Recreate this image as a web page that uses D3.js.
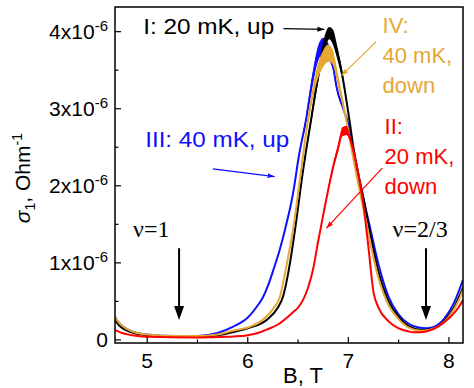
<!DOCTYPE html>
<html>
<head>
<meta charset="utf-8">
<script src="https://cdn.jsdelivr.net/npm/d3@7"></script>
<style>
  body { margin: 0; background: #fff; }
  text { font-family: "Liberation Sans", Arial, sans-serif; }
</style>
</head>
<body>
<div id="chart"></div>
<script>
// field values (T) and sigma_1 values (units of 1e-6 Ohm^-1)
// noise = half width of the jittery band near the peak
const blueB = [4.68,4.72,4.8,4.9,5.0,5.3,5.5,5.7,5.85,6.0,6.1,6.15,6.2,6.26,6.32,6.37,6.45,6.51,6.58,6.64,6.7,6.75,6.8,6.85,6.88,6.95,7.0,7.05,7.1,7.15,7.2,7.3,7.4,7.5,7.6,7.7,7.77,7.85,7.95,8.05,8.14]
const blueV = [0.30,0.22,0.14,0.09,0.07,0.05,0.05,0.09,0.17,0.29,0.45,0.55,0.7,0.93,1.18,1.43,1.9,2.4,2.86,3.35,3.72,3.82,3.75,3.55,3.3,3.0,2.8,2.45,2.1,1.82,1.55,0.98,0.56,0.33,0.21,0.16,0.15,0.17,0.27,0.48,0.78]
const blueN = [0,0,0,0,0,0,0,0,0,0,0,0,0,0,0,0,0.01,0.03,0.05,0.08,0.1,0.1,0.1,0.07,0.04,0.02,0,0,0,0,0,0,0,0,0,0,0,0,0,0,0]

const blackB = [4.68,4.72,4.8,4.9,5.0,5.3,5.5,5.7,5.85,6.02,6.19,6.3,6.35,6.42,6.47,6.55,6.63,6.71,6.76,6.81,6.85,6.88,6.93,7.01,7.05,7.1,7.16,7.2,7.3,7.4,7.5,7.6,7.73,7.85,7.95,8.05,8.14]
const blackV = [0.26,0.19,0.12,0.08,0.06,0.04,0.04,0.06,0.1,0.16,0.26,0.42,0.56,1.0,1.43,2.2,2.86,3.5,3.82,3.98,3.92,3.78,3.5,2.86,2.5,2.15,1.78,1.5,0.88,0.5,0.3,0.18,0.13,0.15,0.24,0.42,0.68]
const blackN = [0,0,0,0,0,0,0,0,0,0,0,0,0,0,0.01,0.03,0.05,0.09,0.1,0.08,0.1,0.09,0.06,0.02,0,0,0,0,0,0,0,0,0,0,0,0,0]

const orangeB = [4.68,4.72,4.8,4.9,5.0,5.3,5.5,5.7,5.85,6.02,6.15,6.25,6.32,6.39,6.45,6.53,6.6,6.68,6.75,6.8,6.84,6.9,6.98,7.05,7.15,7.3,7.4,7.5,7.6,7.72,7.8,7.9,8.0,8.1,8.14]
const orangeV = [0.30,0.22,0.14,0.09,0.07,0.05,0.05,0.07,0.12,0.17,0.26,0.4,0.56,1.0,1.43,2.2,2.86,3.4,3.65,3.72,3.68,3.35,2.85,2.35,1.7,0.8,0.45,0.27,0.16,0.12,0.13,0.18,0.3,0.52,0.65]
const orangeN = [0,0,0,0,0,0,0,0,0,0,0,0,0,0,0.01,0.03,0.05,0.09,0.11,0.11,0.1,0.07,0.04,0.01,0,0,0,0,0,0,0,0,0,0,0]

const redB = [4.68,4.75,4.85,5.0,5.5,5.8,6.0,6.1,6.2,6.3,6.4,6.45,6.5,6.55,6.6,6.65,6.7,6.75,6.8,6.85,6.9,6.94,6.98,7.02,7.06,7.1,7.15,7.2,7.25,7.3,7.4,7.5,7.6,7.65,7.7,7.8,7.9,8.0,8.1,8.14]
const redV = [0.13,0.09,0.06,0.04,0.03,0.04,0.06,0.09,0.14,0.2,0.3,0.36,0.42,0.52,0.68,0.92,1.28,1.62,1.95,2.25,2.5,2.7,2.72,2.6,2.4,2.15,1.75,1.2,0.62,0.42,0.24,0.15,0.11,0.1,0.1,0.12,0.18,0.28,0.43,0.52]
const redN = [0,0,0,0,0,0,0,0,0,0,0,0,0,0,0,0,0.01,0.02,0.03,0.04,0.05,0.06,0.06,0.04,0.02,0,0,0,0,0,0,0,0,0,0,0,0,0,0,0]

const xTicks = [5, 6, 7, 8]
const xMinor = [5.5, 6.5, 7.5]
const yTicks = [0, 1, 2, 3, 4]
const yMinor = [0.5, 1.5, 2.5, 3.5]

// draw order: blue under black under orange under red
const series = [
    {name: "III", color: "#1010ff", B: blueB, v: blueV, n: blueN},
    {name: "I", color: "#000000", B: blackB, v: blackV, n: blackN},
    {name: "IV", color: "#e6a734", B: orangeB, v: orangeV, n: orangeN},
    {name: "II", color: "#ff0000", B: redB, v: redV, n: redN}
]

var width = 474, height = 388
var margin = {left: 115, right: 11, top: 7, bottom: 45}

var svg = d3.select("#chart")
    .append("svg")
    .attr("width", width)
    .attr("height", height)

var x = d3.scaleLinear()
    .domain([4.68, 8.14])
    .range([margin.left, width - margin.right])

var y = d3.scaleLinear()
    .domain([-0.04, 4.32])
    .range([height - margin.bottom, margin.top])

svg.append("defs").append("marker")
    .attr("id", "head")
    .attr("viewBox", "0 0 10 10")
    .attr("refX", 10).attr("refY", 5)
    .attr("markerWidth", 7).attr("markerHeight", 7)
    .attr("markerUnits", "userSpaceOnUse")
    .attr("orient", "auto")
    .append("path")
    .attr("d", "M0,1.5 L10,5 L0,8.5 Z")
    .attr("fill", "context-stroke")

// curves
var clip = svg.append("clipPath").attr("id", "plot-clip")
    .append("rect")
    .attr("x", margin.left).attr("y", margin.top)
    .attr("width", width - margin.left - margin.right)
    .attr("height", height - margin.top - margin.bottom)

var plot = svg.append("g").attr("clip-path", "url(#plot-clip)")

series.forEach(s => {
    const pts = s.B.map((b, i) => ({b: b, v: s.v[i], n: s.n[i]}))

    plot.append("path")
        .datum(pts)
        .attr("fill", s.color)
        .attr("d", d3.area()
            .x(d => x(d.b))
            .y0(d => y(d.v - d.n))
            .y1(d => y(d.v + d.n))
            .curve(d3.curveMonotoneX))

    plot.append("path")
        .datum(pts)
        .attr("fill", "none")
        .attr("stroke", s.color)
        .attr("stroke-width", 2)
        .attr("d", d3.line()
            .x(d => x(d.b))
            .y(d => y(d.v))
            .curve(d3.curveMonotoneX))
})

// frame
svg.append("rect")
    .attr("x", x(4.68)).attr("y", y(4.32))
    .attr("width", x(8.14) - x(4.68))
    .attr("height", y(-0.04) - y(4.32))
    .attr("fill", "none")
    .attr("stroke", "#000")
    .attr("stroke-width", 1.5)

// ticks point inward
var xAxis = svg.append("g")
    .attr("transform", "translate(0," + y(-0.04) + ")")
xAxis.selectAll(".major").data(xTicks).enter().append("line")
    .attr("x1", d => x(d)).attr("x2", d => x(d))
    .attr("y1", 0).attr("y2", -6)
    .attr("stroke", "#000").attr("stroke-width", 1.2)
xAxis.selectAll(".minor").data(xMinor).enter().append("line")
    .attr("x1", d => x(d)).attr("x2", d => x(d))
    .attr("y1", 0).attr("y2", -3.5)
    .attr("stroke", "#000").attr("stroke-width", 1.2)
xAxis.selectAll("text").data(xTicks).enter().append("text")
    .attr("x", d => x(d))
    .attr("y", 25)
    .attr("text-anchor", "middle")
    .style("font-size", "21px")
    .text(d => d)

var yAxis = svg.append("g")
    .attr("transform", "translate(" + x(4.68) + ",0)")
yAxis.selectAll(".major").data(yTicks).enter().append("line")
    .attr("y1", d => y(d)).attr("y2", d => y(d))
    .attr("x1", 0).attr("x2", 6)
    .attr("stroke", "#000").attr("stroke-width", 1.2)
yAxis.selectAll(".minor").data(yMinor).enter().append("line")
    .attr("y1", d => y(d)).attr("y2", d => y(d))
    .attr("x1", 0).attr("x2", 3.5)
    .attr("stroke", "#000").attr("stroke-width", 1.2)

var yLabels = yAxis.selectAll("text").data(yTicks).enter().append("text")
    .attr("x", -7)
    .attr("y", d => y(d) + 7)
    .attr("text-anchor", "end")
    .style("font-size", "21px")
yLabels.filter(d => d == 0).text("0")
yLabels.filter(d => d != 0).each(function(d) {
    const t = d3.select(this)
    t.append("tspan").text(d + "x10")
    t.append("tspan").attr("dy", -8).style("font-size", "15px").text("-6")
})

// axis titles
svg.append("text")
    .attr("x", 303)
    .attr("y", 383)
    .attr("text-anchor", "middle")
    .style("font-size", "22px")
    .text("B, T")

var yTitle = svg.append("text")
    .attr("transform", "translate(30," + y(2.1) + ") rotate(-90)")
    .attr("text-anchor", "middle")
    .style("font-size", "21px")
yTitle.append("tspan").style("font-style", "italic").text("σ")
yTitle.append("tspan").attr("dy", 5).style("font-size", "14px").text("1")
yTitle.append("tspan").attr("dy", -5).text(", Ohm")
yTitle.append("tspan").attr("dy", -8).style("font-size", "14px").text("-1")

// annotations (positions in data units), width = stretched length in px
const labels = [
    {lines: ["I: 20 mK, up"], b: 4.96, v: 3.97, color: "#000", width: 131},
    {lines: ["III: 40 mK, up"], b: 4.98, v: 2.5, color: "#1010ff", width: 144},
    {lines: ["IV:", "40 mK,", "down"], b: 7.34, v: 3.98, color: "#e6a734"},
    {lines: ["II:", "20 mK,", "down"], b: 7.36, v: 2.67, color: "#ff0000"}
]
labels.forEach(l => {
    const t = svg.append("text")
        .attr("x", x(l.b)).attr("y", y(l.v))
        .style("font-size", "22px")
        .attr("fill", l.color)
    if (l.width) t.attr("textLength", l.width).attr("lengthAdjust", "spacingAndGlyphs")
    l.lines.forEach((line, i) => {
        t.append("tspan").attr("x", x(l.b)).attr("dy", i == 0 ? 0 : 30).text(line)
    })
})

const pointers = [
    {b0: 6.356, v0: 4.04, b1: 6.762, v1: 4.03, color: "#000"},
    {b0: 5.653, v0: 2.22, b1: 6.267, v1: 2.12, color: "#1010ff"},
    {b0: 7.277, v0: 3.87, b1: 6.931, v1: 3.43, color: "#e6a734"},
    {b0: 7.337, v0: 2.23, b1: 6.782, v1: 1.45, color: "#ff0000"}
]
svg.selectAll(".pointer").data(pointers).enter().append("line")
    .attr("x1", d => x(d.b0)).attr("y1", d => y(d.v0))
    .attr("x2", d => x(d.b1)).attr("y2", d => y(d.v1))
    .attr("stroke", d => d.color)
    .attr("stroke-width", 1.2)
    .attr("marker-end", "url(#head)")

// filling factor markers
const nuMarks = [
    {label: "ν=1", b: 5.317, tb: 4.86},
    {label: "ν=2/3", b: 7.772, tb: 7.44}
]
nuMarks.forEach(m => {
    svg.append("line")
        .attr("x1", x(m.b)).attr("x2", x(m.b))
        .attr("y1", y(1.19)).attr("y2", y(0.40))
        .attr("stroke", "#000").attr("stroke-width", 2)
    svg.append("path")
        .attr("d", "M" + (x(m.b) - 5) + "," + y(0.44) + " L" + (x(m.b) + 5) + "," + y(0.44) + " L" + x(m.b) + "," + y(0.26) + " Z")
        .attr("fill", "#000")
    svg.append("text")
        .attr("x", x(m.tb)).attr("y", y(1.34))
        .style("font-family", "'Liberation Serif', 'Times New Roman', serif")
        .style("font-size", "24px")
        .text(m.label)
})
</script>
</body>
</html>
